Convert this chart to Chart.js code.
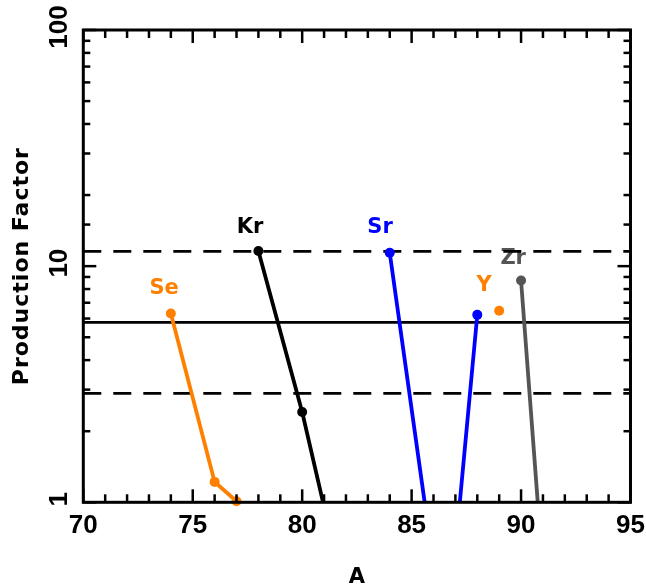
<!DOCTYPE html>
<html>
<head>
<meta charset="utf-8">
<script src="https://cdn.jsdelivr.net/npm/chart.js@4"></script>
<style>
html,body{margin:0;padding:0;background:#fff;}
canvas{display:block;}
</style>
</head>
<body>
<canvas id="c" width="646" height="587"></canvas>
<script>
// ---- data (mass number A vs production factor) ----
const seA = [74, 76, 77];
const sePF = [6.30, 1.22, 1.01];
const krA = [78, 80, 82];
const krPF = [11.6, 2.41, 0.38];
const srA = [84, 86, 87, 88];
const srPF = [11.4, 0.54, 0.63, 6.22];
const yA = [89];
const yPF = [6.47];
const zrA = [90, 91];
const zrPF = [8.69, 0.51];

// reference band: mean production factor, x2 and /2
const refA = [70, 95];
const refMean = [5.78, 5.78];
const refUpper = [11.56, 11.56];
const refLower = [2.89, 2.89];

// element labels
const labelText = ['Se', 'Kr', 'Sr', 'Y', 'Zr'];
const labelA = [73.69, 77.62, 83.56, 88.31, 89.64];
const labelPF = [8.01, 14.6, 14.5, 8.25, 10.8];

// tick labels
const xTickValues = [70, 75, 80, 85, 90, 95];
const xTickLabels = ['70', '75', '80', '85', '90', '95'];
const yTickValues = [1, 10, 100];
const yTickLabels = ['1', '10', '100'];

const ORANGE = '#ff8000', BLUE = '#0000ff', GRAY = '#555555', BLACK = '#000000';
const labelColors = [ORANGE, BLACK, BLUE, ORANGE, GRAY];

const pts = (xs, ys) => xs.map((a, i) => ({x: a, y: ys[i]}));
const clipBottom = {left: 6, right: 6, top: 6, bottom: 0};

function series(xs, ys, color, clip) {
  return {
    data: pts(xs, ys),
    borderColor: color,
    backgroundColor: color,
    borderWidth: 3.8,
    pointRadius: 5,
    pointHoverRadius: 5,
    pointBorderWidth: 0,
    tension: 0,
    clip: clip
  };
}
function refLine(ys, dash) {
  return {
    data: pts(refA, ys),
    borderColor: BLACK,
    borderWidth: 2.8,
    borderDash: dash,
    pointRadius: 0,
    tension: 0,
    clip: 0
  };
}

const frame = {
  id: 'frame',
  beforeDatasetsDraw(chart) {
    const {ctx, scales: {x, y}} = chart;
    ctx.save();
    ctx.font = 'bold 21px "DejaVu Sans"';
    ctx.textAlign = 'center';
    ctx.textBaseline = 'middle';
    labelText.forEach((t, i) => {
      ctx.fillStyle = labelColors[i];
      ctx.fillText(t, x.getPixelForValue(labelA[i]), y.getPixelForValue(labelPF[i]));
    });
    ctx.restore();
  },
  afterDraw(chart) {
    const {ctx, chartArea: a, scales: {x, y}} = chart;
    ctx.save();
    ctx.strokeStyle = BLACK;
    ctx.lineCap = 'butt';
    const line = (x1, y1, x2, y2) => { ctx.beginPath(); ctx.moveTo(x1, y1); ctx.lineTo(x2, y2); ctx.stroke(); };
    ctx.lineWidth = 2.5;
    x.ticks.forEach(t => {
      const px = x.getPixelForValue(t.value);
      const len = (t.value % 5 === 0) ? 13 : 8;
      line(px, a.bottom, px, a.bottom - len);
      line(px, a.top, px, a.top + len);
    });
    y.ticks.forEach(t => {
      const py = y.getPixelForValue(t.value);
      const lg = Math.log10(t.value);
      const major = Math.abs(lg - Math.round(lg)) < 1e-6;
      const len = major ? 13 : 7;
      line(a.left, py, a.left + len, py);
      line(a.right, py, a.right - len, py);
    });
    ctx.lineWidth = 3;
    ctx.strokeRect(a.left, a.top, a.right - a.left, a.bottom - a.top);

    // tick labels
    ctx.fillStyle = BLACK;
    ctx.font = 'bold 26px "Liberation Sans"';
    ctx.textAlign = 'center';
    ctx.textBaseline = 'alphabetic';
    xTickValues.forEach((v, i) => {
      ctx.fillText(xTickLabels[i], x.getPixelForValue(v), a.bottom + 31);
    });
    yTickValues.forEach((v, i) => {
      ctx.save();
      ctx.translate(a.left - 16, y.getPixelForValue(v) - 3);
      ctx.rotate(-Math.PI / 2);
      ctx.fillText(yTickLabels[i], 0, 0);
      ctx.restore();
    });
    // axis titles
    ctx.font = 'bold 21px "DejaVu Sans"';
    ctx.fillText('A', (a.left + a.right) / 2, 583);
    ctx.save();
    ctx.font = 'bold 22px "DejaVu Sans"';
    ctx.letterSpacing = '1px';
    ctx.translate(28, (a.top + a.bottom) / 2);
    ctx.rotate(-Math.PI / 2);
    ctx.fillText('Production Factor', 0, 0);
    ctx.restore();
    ctx.restore();
  }
};

new Chart(document.getElementById('c'), {
  type: 'line',
  data: {
    datasets: [
      series(seA, sePF, ORANGE, 6),
      series(krA, krPF, BLACK, clipBottom),
      series(srA, srPF, BLUE, clipBottom),
      series(yA, yPF, ORANGE, 6),
      series(zrA, zrPF, GRAY, clipBottom),
      refLine(refMean, []),
      refLine(refUpper, [18, 12]),
      refLine(refLower, [18, 12])
    ]
  },
  options: {
    responsive: false,
    animation: false,
    events: [],
    layout: {padding: {top: 30, right: 15.5, left: 0, bottom: 0}},
    plugins: {legend: {display: false}, tooltip: {enabled: false}},
    scales: {
      x: {
        type: 'linear', min: 70, max: 95,
        ticks: {stepSize: 1, display: false},
        grid: {display: false}, border: {display: false},
        afterFit: s => { s.height = 587 - 502.3; }
      },
      y: {
        type: 'logarithmic', min: 1, max: 100,
        ticks: {display: false},
        grid: {display: false}, border: {display: false},
        afterFit: s => { s.width = 83.3; }
      }
    }
  },
  plugins: [frame]
});
</script>
</body>
</html>
